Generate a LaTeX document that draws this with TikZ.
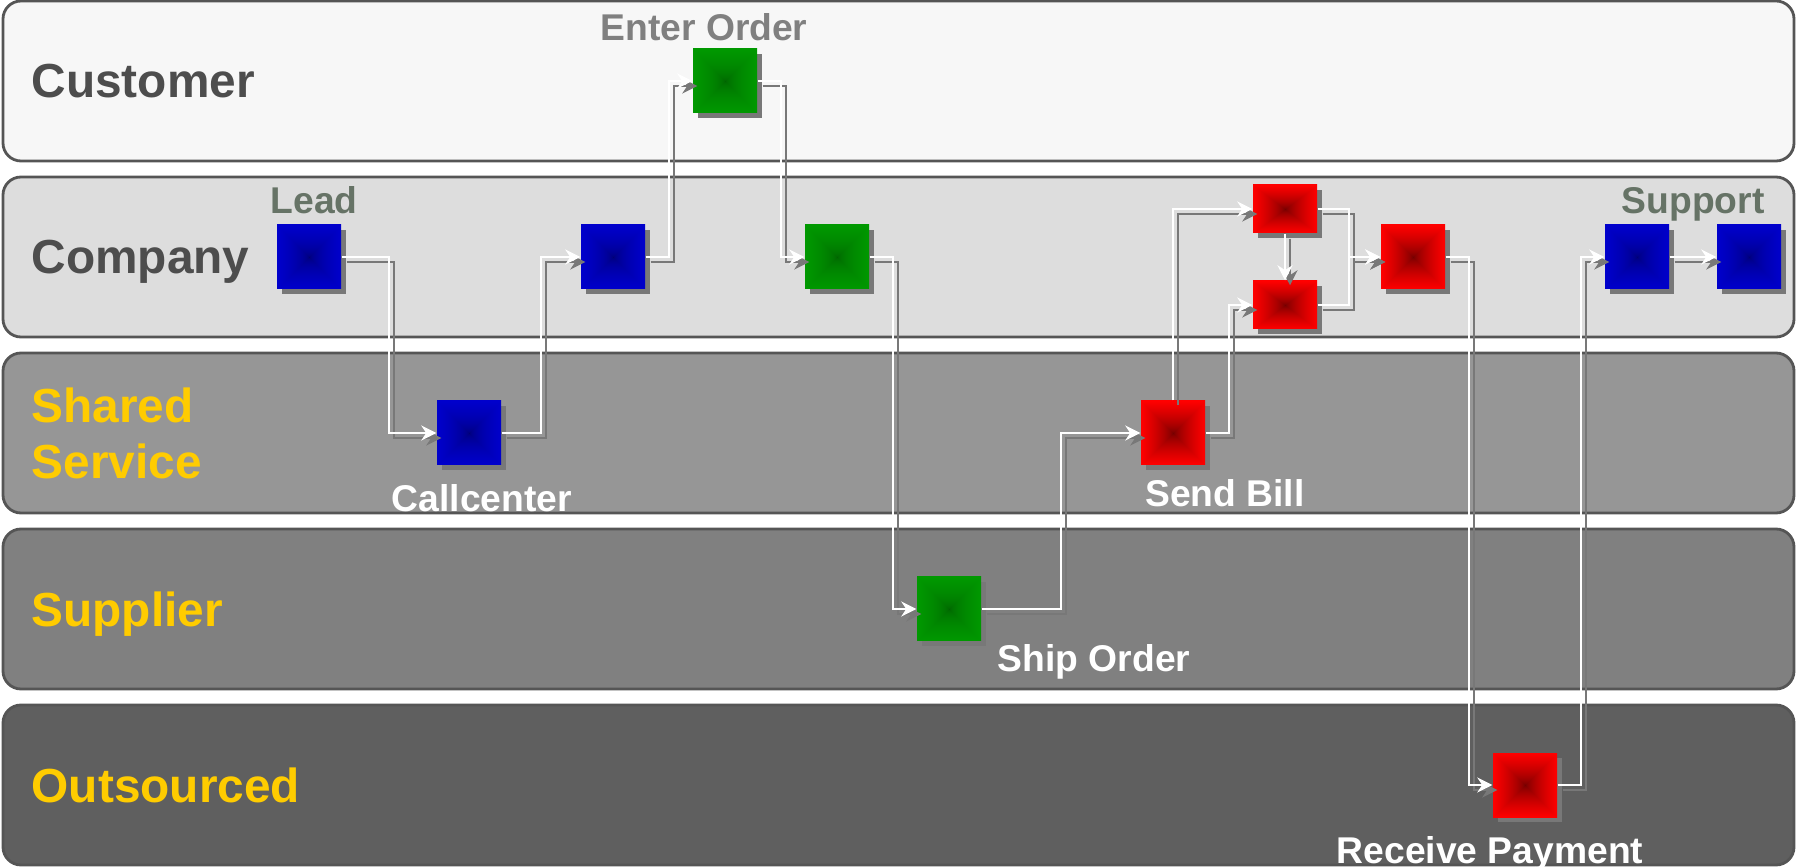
\documentclass[tikz,border=0pt]{standalone}
\usepackage{fontspec}
\setmainfont{Liberation Sans}
\usepackage{xcolor}
\usetikzlibrary{positioning,calc,shadows,arrows.meta}
\definecolor{laneline}{RGB}{85,85,85}
\definecolor{lanedark}{RGB}{77,77,77}
\definecolor{laneyellow}{RGB}{255,204,0}
\definecolor{customerfill}{RGB}{247,247,247}
\definecolor{companyfill}{RGB}{221,221,221}
\definecolor{sharedfill}{RGB}{150,150,150}
\definecolor{supplierfill}{RGB}{128,128,128}
\definecolor{outsourcedfill}{RGB}{95,95,95}
\definecolor{shadowgray}{RGB}{120,120,120}
\definecolor{tagsage}{RGB}{102,115,102}
\definecolor{taggray}{RGB}{128,128,128}

% pyramid shadings for the steps
\pgfdeclarefunctionalshading{redstep}{\pgfpoint{-50bp}{-50bp}}{\pgfpoint{50bp}{50bp}}{}{
  abs exch abs 2 copy lt {exch} if pop 25 div dup 1 gt {pop 1} if 0.7 exp
  0.55 mul 0.45 add 0 0
}
\pgfdeclarefunctionalshading{greenstep}{\pgfpoint{-50bp}{-50bp}}{\pgfpoint{50bp}{50bp}}{}{
  abs exch abs 2 copy lt {exch} if pop 25 div dup 1 gt {pop 1} if sqrt
  0.22 mul 0.38 add 0 exch 0
}
\pgfdeclarefunctionalshading{bluestep}{\pgfpoint{-50bp}{-50bp}}{\pgfpoint{50bp}{50bp}}{}{
  abs exch abs 2 copy lt {exch} if pop 25 div dup 1 gt {pop 1} if sqrt
  0.35 mul 0.45 add 0 exch 0 exch
}

\begin{document}
\begin{tikzpicture}[
    lane/.style={draw=laneline, line width=0.8pt, rounded corners=0.18cm},
    lanename/.style={anchor=west, inner sep=0pt, text depth=0pt, align=left,
      font=\fontsize{13.6}{16.1}\selectfont\bfseries},
    stepbox/.style={minimum width=0.64cm, minimum height=0.64cm, inner sep=0pt, shade,
      drop shadow={shadow xshift=0.05cm, shadow yshift=-0.05cm, opacity=1, fill=shadowgray}},
    redbox/.style={stepbox, shading=redstep},
    greenbox/.style={stepbox, shading=greenstep},
    bluebox/.style={stepbox, shading=bluestep},
    tag/.style={inner sep=0pt, text depth=0pt, font=\fontsize{10.6}{12}\selectfont\bfseries},
    flow/.style={line width=0.8pt, -{Stealth[length=1.5mm, width=1.5mm]}},
    elbow/.style={to path={-| ($(\tikztostart)!0.5!(\tikztotarget)$) |- (\tikztotarget)}}
  ]
  \useasboundingbox (0,0) rectangle (17.96,8.66);

  % Lanes
  \draw[lane, fill=customerfill] (0.03,7.05) rectangle (17.94,8.65);
  \draw[lane, fill=companyfill] (0.03,5.29) rectangle (17.94,6.89);
  \draw[lane, fill=sharedfill] (0.03,3.53) rectangle (17.94,5.13);
  \draw[lane, fill=supplierfill] (0.03,1.77) rectangle (17.94,3.37);
  \draw[lane, fill=outsourcedfill] (0.03,0.01) rectangle (17.94,1.61);

  \node[lanename, lanedark] (customer) at (0.31,7.85) {Customer};
  \node[lanename, lanedark] (company) at (0.31,6.09) {Company};
  \node[lanename, laneyellow] (shared) at (0.31,4.33) {Shared\\Service};
  \node[lanename, laneyellow] (supplier) at (0.31,2.57) {Supplier};
  \node[lanename, laneyellow] (outsourced) at (0.31,0.81) {Outsourced};

  % Steps
  \node[bluebox] (lead) at (3.09,6.09) {};
  \node[bluebox] (callc) at (4.69,4.33) {};
  \node[bluebox] (offer) at (6.13,6.09) {};
  \node[greenbox] (enter) at (7.25,7.85) {};
  \node[greenbox] (confirm) at (8.37,6.09) {};
  \node[greenbox] (ship) at (9.49,2.57) {};
  \node[redbox] (bill) at (11.73,4.33) {};
  \node[redbox, minimum height=0.48cm] (billa) at (12.85,6.57) {};
  \node[redbox, minimum height=0.48cm] (billb) at (12.85,5.61) {};
  \node[redbox] (collect) at (14.13,6.09) {};
  \node[redbox] (pay) at (15.25,0.81) {};
  \node[bluebox] (supa) at (16.37,6.09) {};
  \node[bluebox] (supb) at (17.49,6.09) {};

  % Step names
  \node[tag, tagsage, above=0.1cm of lead, xshift=0.05cm] (leadtag) {Lead};
  \node[tag, taggray, above=0.07cm of enter, xshift=-0.21cm] (entertag) {Enter Order};
  \coordinate (supmid) at ($(supa.north)!0.5!(supb.north)$);
  \node[tag, tagsage, above=0.1cm of supmid] (suptag) {Support};
  \node[tag, white, below=0.18cm of callc, xshift=0.13cm] (calltag) {Callcenter};
  \node[tag, white, below=0.13cm of bill, xshift=0.52cm] (billtag) {Send Bill};
  \node[tag, white, below=0.02cm of ship, xshift=1.45cm] (shiptag) {Ship Order};
  \node[tag, white, below=0.18cm of pay, xshift=-0.35cm] (paytag) {Receive Payment};

  % Flows: shadow first, then the white line
  \foreach \col/\off in {shadowgray/0.05, white/0} {
    \begin{scope}[transform canvas={shift={(\off,-\off)}}, flow, color=\col]
      \draw (lead.east) to[elbow] (callc.west);
      \draw (callc.east) to[elbow] (offer.west);
      \draw (offer.east) to[elbow] (enter.west);
      \draw (enter.east) to[elbow] (confirm.west);
      \draw (confirm.east) to[elbow] (ship.west);
      \draw (ship.east) to[elbow] (bill.west);
      \draw (bill.north) |- (billa.west);
      \draw (bill.east) to[elbow] (billb.west);
      \draw (billa.south) -- (billb.north);
      \draw (billa.east) to[elbow] (collect.west);
      \draw (billb.east) to[elbow] (collect.west);
      \draw (collect.east) to[elbow] (pay.west);
      \draw (pay.east) to[elbow] (supa.west);
      \draw (supa.east) -- (supb.west);
    \end{scope}
  }
\end{tikzpicture}
\end{document}
